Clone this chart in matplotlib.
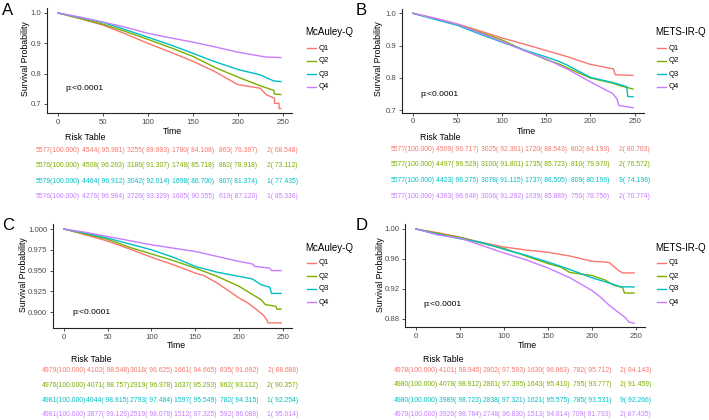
import matplotlib
matplotlib.use("Agg")
import matplotlib.pyplot as plt
from matplotlib.lines import Line2D
from matplotlib.transforms import blended_transform_factory

plt.rcParams["font.family"] = ["Liberation Sans", "DejaVu Sans"]

W, H = 709, 420

groups = ["Q1", "Q2", "Q3", "Q4"]
colors = ["#F8766D", "#7CAE00", "#00BFC4", "#C77CFF"]
table_times = [0, 50, 100, 150, 200, 250]
x_ticks = [0, 50, 100, 150, 200, 250]

# ---- panel A : McAuley-Q, outcome 1
a_time = [
    [0, 25, 50, 75, 100, 125, 150, 175, 200, 225, 232, 241, 241, 246, 246, 248],
    [0, 25, 50, 75, 100, 125, 150, 175, 200, 225, 238, 240, 241, 248],
    [0, 25, 50, 75, 100, 125, 150, 175, 200, 225, 240, 248],
    [0, 25, 50, 75, 100, 125, 150, 175, 200, 225, 230, 248],
]
a_surv = [
    [1, 0.981, 0.960, 0.931, 0.900, 0.871, 0.841, 0.806, 0.764, 0.752, 0.730, 0.719, 0.702, 0.702, 0.6855, 0.6855],
    [1, 0.982, 0.963, 0.939, 0.913, 0.886, 0.857, 0.820, 0.789, 0.760, 0.747, 0.746, 0.733, 0.731],
    [1, 0.985, 0.969, 0.945, 0.920, 0.895, 0.867, 0.839, 0.814, 0.796, 0.776, 0.774],
    [1, 0.986, 0.970, 0.953, 0.933, 0.918, 0.904, 0.888, 0.871, 0.858, 0.855, 0.853],
]
a_n = [[5577, 4544, 3255, 1780, 863, 2], [5576, 4508, 3186, 1748, 882, 2],
       [5579, 4464, 3042, 1698, 807, 1], [5576, 4276, 2726, 1605, 619, 1]]
a_pct = [[100, 95.981, 89.993, 84.108, 76.397, 68.548], [100, 96.263, 91.307, 85.718, 78.918, 73.112],
         [100, 96.912, 92.014, 86.700, 81.374, 77.435], [100, 96.984, 93.329, 90.355, 87.120, 85.336]]

# ---- panel B : METS-IR-Q, outcome 1
b_time = [
    [0, 25, 50, 75, 100, 125, 150, 175, 200, 226, 228, 248],
    [0, 25, 50, 75, 100, 125, 150, 165, 175, 200, 225, 235, 248],
    [0, 25, 50, 75, 100, 125, 150, 165, 175, 200, 225, 241, 242, 248],
    [0, 25, 50, 75, 100, 125, 150, 175, 200, 225, 230, 232, 248],
]
b_surv = [
    [1, 0.985, 0.967, 0.946, 0.924, 0.905, 0.885, 0.865, 0.842, 0.828, 0.810, 0.808],
    [1, 0.983, 0.965, 0.942, 0.918, 0.886, 0.857, 0.843, 0.830, 0.800, 0.784, 0.775, 0.766],
    [1, 0.981, 0.963, 0.936, 0.911, 0.887, 0.865, 0.851, 0.838, 0.802, 0.786, 0.773, 0.743, 0.742],
    [1, 0.984, 0.966, 0.940, 0.913, 0.885, 0.859, 0.826, 0.788, 0.752, 0.735, 0.715, 0.708],
]
b_n = [[5577, 4509, 3025, 1720, 802, 2], [5577, 4497, 3100, 1735, 810, 2],
       [5577, 4423, 3078, 1737, 809, 9], [5577, 4363, 3006, 1639, 750, 2]]
b_pct = [[100, 96.717, 92.361, 88.543, 84.193, 80.763], [100, 96.529, 91.801, 85.723, 79.970, 76.572],
         [100, 96.275, 91.115, 86.505, 80.196, 74.196], [100, 96.648, 91.292, 85.889, 78.756, 70.774]]

# ---- panel C : McAuley-Q, outcome 2
c_time = [
    [0, 25, 50, 75, 100, 125, 150, 160, 175, 200, 210, 220, 228, 232, 233, 248],
    [0, 25, 50, 75, 100, 125, 150, 175, 200, 225, 230, 242, 243, 248],
    [0, 25, 50, 75, 100, 125, 150, 175, 200, 215, 225, 235, 237, 248],
    [0, 25, 50, 75, 100, 125, 150, 175, 200, 215, 218, 235, 237, 248],
]
c_surv = [
    [1, 0.993, 0.9855, 0.976, 0.966, 0.957, 0.947, 0.944, 0.935, 0.917, 0.911, 0.903, 0.896, 0.890, 0.887, 0.887],
    [1, 0.994, 0.9876, 0.978, 0.970, 0.962, 0.953, 0.943, 0.931, 0.915, 0.909, 0.907, 0.9036, 0.9036],
    [1, 0.995, 0.989, 0.982, 0.975, 0.966, 0.955, 0.948, 0.943, 0.940, 0.933, 0.930, 0.9225, 0.9225],
    [1, 0.996, 0.991, 0.986, 0.981, 0.977, 0.973, 0.967, 0.961, 0.958, 0.955, 0.953, 0.950, 0.950],
]
c_n = [[4979, 4102, 3018, 1661, 835, 2], [4976, 4071, 2919, 1637, 862, 2],
       [4981, 4044, 2793, 1597, 782, 1], [4981, 3877, 2519, 1512, 592, 1]]
c_pct = [[100, 98.548, 96.625, 94.665, 91.692, 88.688], [100, 98.757, 96.978, 95.293, 93.112, 90.357],
         [100, 98.915, 97.484, 95.549, 94.315, 92.254], [100, 99.126, 98.079, 97.325, 96.088, 95.014]]

# ---- panel D : METS-IR-Q, outcome 2
d_time = [
    [0, 25, 50, 75, 100, 125, 150, 175, 200, 215, 220, 225, 230, 235, 248],
    [0, 25, 50, 75, 100, 125, 150, 165, 175, 200, 215, 225, 235, 237, 248],
    [0, 25, 50, 75, 100, 125, 150, 175, 200, 225, 232, 248],
    [0, 25, 50, 75, 100, 125, 150, 175, 200, 210, 220, 230, 238, 242, 248],
]
d_surv = [
    [1, 0.995, 0.989, 0.982, 0.976, 0.972, 0.969, 0.964, 0.957, 0.956, 0.955, 0.950, 0.945, 0.9414, 0.9414],
    [1, 0.994, 0.989, 0.981, 0.974, 0.964, 0.954, 0.949, 0.942, 0.938, 0.932, 0.925, 0.922, 0.9146, 0.9146],
    [1, 0.993, 0.987, 0.982, 0.973, 0.965, 0.956, 0.946, 0.935, 0.926, 0.923, 0.9227],
    [1, 0.992, 0.988, 0.978, 0.968, 0.959, 0.948, 0.935, 0.918, 0.909, 0.898, 0.889, 0.882, 0.876, 0.8744],
]
d_n = [[4978, 4101, 2802, 1630, 782, 2], [4980, 4078, 2861, 1643, 795, 2],
       [4980, 3989, 2838, 1621, 785, 9], [4979, 3926, 2748, 1513, 709, 2]]
d_pct = [[100, 98.945, 97.593, 96.863, 95.712, 94.143], [100, 98.912, 97.395, 95.410, 93.777, 91.459],
         [100, 98.723, 97.321, 95.575, 93.531, 92.266], [100, 98.784, 96.830, 94.814, 91.793, 87.435]]


def fx(x):
    return x / W


def fy(y):
    return 1 - y / H


fig = plt.figure(figsize=(W / 100, H / 100), dpi=100)

# layout in pixels
panels = [
    dict(letter="A", lx=2, ly=3, box=(47, 292, 8.2, 113.4), ylim=(0.669, 1.0158),
         yt=[0.7, 0.8, 0.9, 1.0], fmt="{:.1f}", title="McAuley-Q", legx=305, legy=32,
         rows_leg=[48, 61, 74, 87], p=(65, 89), rows=[150, 166, 181.7, 196.7], rt=138,
         xl=(172, 131), yl=(26, 59), time=a_time, surv=a_surv, n=a_n, pct=a_pct),
    dict(letter="B", lx=356, ly=3, box=(402, 644, 8.6, 112.6), ylim=(0.693, 1.0146),
         yt=[0.7, 0.8, 0.9, 1.0], fmt="{:.1f}", title="METS-IR-Q", legx=655, legy=32,
         rows_leg=[48, 61, 74, 87], p=(420, 94), rows=[149.5, 164.5, 180, 196], rt=138,
         xl=(526, 131), yl=(379, 59), time=b_time, surv=b_surv, n=b_n, pct=b_pct),
    dict(letter="C", lx=2, ly=218, box=(53, 292, 224.3, 328.3), ylim=(0.8805, 1.0057),
         yt=[0.9, 0.925, 0.95, 0.975, 1.0], fmt="{:.3f}", title="McAuley-Q", legx=305, legy=248,
         rows_leg=[263, 276, 289, 302], p=(72, 313), rows=[371, 385.5, 400, 414.5], rt=359,
         xl=(176, 346), yl=(24, 275), time=c_time, surv=c_surv, n=c_n, pct=c_pct),
    dict(letter="D", lx=356, ly=218, box=(405, 645, 224.3, 327.4), ylim=(0.8688, 1.00625),
         yt=[0.88, 0.92, 0.96, 1.0], fmt="{:.2f}", title="METS-IR-Q", legx=655, legy=248,
         rows_leg=[263, 276, 289, 302], p=(423, 304), rows=[370, 384.5, 400, 415], rt=359,
         xl=(527, 346), yl=(380, 275), time=d_time, surv=d_surv, n=d_n, pct=d_pct),
]

for pnl in panels:
    l, r, t, b = pnl["box"]
    ax = fig.add_axes([fx(l), fy(b), fx(r - l), (b - t) / H])
    for i, g in enumerate(groups):
        ax.plot(pnl["time"][i], pnl["surv"][i], color=colors[i], lw=1.0)
    ax.set_xlim(-12.4, 260.4)
    ax.set_ylim(*pnl["ylim"])
    ax.set_xticks(x_ticks)
    ax.set_yticks(pnl["yt"])
    ax.set_yticklabels([pnl["fmt"].format(v) for v in pnl["yt"]])
    for s in ["top", "right"]:
        ax.spines[s].set_visible(False)
    for s in ["left", "bottom"]:
        ax.spines[s].set_linewidth(0.8)
        ax.spines[s].set_color("#222222")
    ax.tick_params(labelsize=5.6, labelcolor="#4D4D4D", length=2.5, width=0.6,
                   color="#333333", pad=1.5)
    ax.set_xlabel("Time", fontsize=6.3)
    ax.xaxis.set_label_coords(fx(pnl["xl"][0]), fy(pnl["xl"][1]), transform=fig.transFigure)
    ax.xaxis.label.set_va("center")
    ax.set_ylabel("Survival Probability", fontsize=6.3)
    ax.yaxis.set_label_coords(fx(pnl["yl"][0]), fy(pnl["yl"][1]), transform=fig.transFigure)
    ax.yaxis.label.set_va("center")

    fig.text(fx(pnl["lx"]), fy(pnl["ly"]), pnl["letter"], fontsize=12, va="top", ha="left")
    fig.text(fx(pnl["p"][0]), fy(pnl["p"][1]), "p:<0.0001", fontsize=6, va="center", ha="left")

    # legend
    fig.text(fx(pnl["legx"]), fy(pnl["legy"]), pnl["title"], fontsize=7, va="center", ha="left")
    for i, g in enumerate(groups):
        yy = fy(pnl["rows_leg"][i])
        fig.add_artist(Line2D([fx(pnl["legx"] + 2), fx(pnl["legx"] + 11)], [yy, yy],
                              color=colors[i], lw=1.0, transform=fig.transFigure))
        fig.text(fx(pnl["legx"] + 14), yy, g, fontsize=5.5, va="center", ha="left")

    # risk table
    tr = blended_transform_factory(ax.transData, fig.transFigure)
    fig.text(8, fy(pnl["rt"]), "Risk Table", fontsize=6.3, va="center", ha="left", transform=tr)
    for i, g in enumerate(groups):
        for j, tt in enumerate(table_times):
            s = "{}({:7.3f})".format(pnl["n"][i][j], pnl["pct"][i][j])
            fig.text(tt, fy(pnl["rows"][i]), s, fontsize=4.9, color=colors[i],
                     va="center", ha="center", transform=tr)

fig.savefig("out.png", dpi=100)
